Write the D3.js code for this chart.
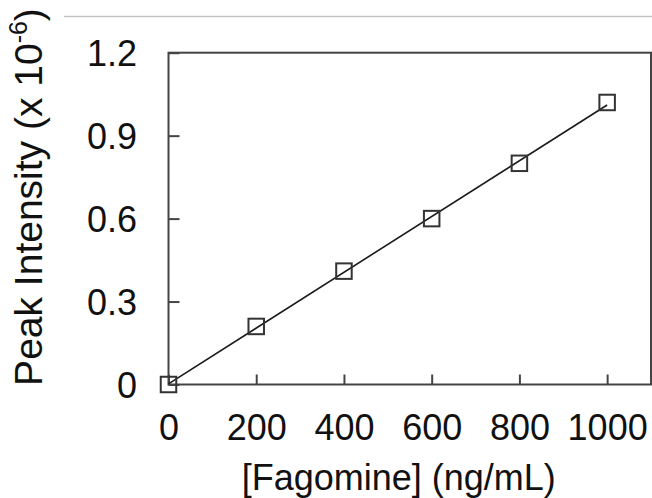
<!DOCTYPE html>
<html>
<head>
<meta charset="utf-8">
<script src="https://cdn.jsdelivr.net/npm/d3@7/dist/d3.min.js"></script>
<style>
  html, body { margin: 0; padding: 0; background: #fff; }
  svg { display: block; font-family: "Liberation Sans", Arial, Helvetica, sans-serif; }
</style>
</head>
<body>
<svg id="chart" width="652" height="498"></svg>
<script>
// Calibration data: fagomine concentration vs. peak intensity
const concentrations = [0, 200, 400, 600, 800, 1000];      // ng/mL
const intensities    = [0, 0.21, 0.41, 0.60, 0.80, 1.02];  // x 10^-6
const xTickValues = [0, 200, 400, 600, 800, 1000];
const yTickValues = [0, 0.3, 0.6, 0.9, 1.2];

const svg = d3.select("#chart");

const plot = { left: 168.5, right: 651, top: 52.7, bottom: 384.5 };

const x = d3.scaleLinear().domain([0, 1100]).range([plot.left, plot.right]);
const y = d3.scaleLinear().domain([0, 1.2]).range([plot.bottom, plot.top]);

// Thin rule across the top of the figure
svg.append("line")
  .attr("x1", 64).attr("x2", 652)
  .attr("y1", 16.5).attr("y2", 16.5)
  .attr("stroke", "#c4c4c4").attr("stroke-width", 1.5);

// Frame
svg.append("rect")
  .attr("x", plot.left).attr("y", plot.top)
  .attr("width", plot.right - plot.left)
  .attr("height", plot.bottom - plot.top)
  .attr("fill", "none").attr("stroke", "#444").attr("stroke-width", 2);

// Y axis: inward ticks
const yAxis = d3.axisLeft(y)
  .tickValues(yTickValues)
  .tickFormat(d => d === 0 ? "0" : d3.format(".1f")(d))
  .tickSizeInner(-11).tickSizeOuter(0).tickPadding(31.5);
const gy = svg.append("g").attr("transform", `translate(${plot.left},0)`).call(yAxis);
gy.select(".domain").remove();
gy.selectAll(".tick line").attr("stroke", "#444").attr("stroke-width", 2);
gy.selectAll(".tick text").attr("fill", "#111").attr("font-size", 36)
  .attr("font-family", "Liberation Sans, Arial, sans-serif").attr("dy", "0.35em");

// X axis: inward ticks
const xAxis = d3.axisBottom(x)
  .tickValues(xTickValues)
  .tickFormat(d3.format("d"))
  .tickSizeInner(-10).tickSizeOuter(0).tickPadding(30);
const gx = svg.append("g").attr("transform", `translate(0,${plot.bottom})`).call(xAxis);
gx.select(".domain").remove();
gx.selectAll(".tick line").attr("stroke", "#444").attr("stroke-width", 2);
gx.selectAll(".tick text").attr("fill", "#111").attr("font-size", 36)
  .attr("font-family", "Liberation Sans, Arial, sans-serif")
  .attr("y", 55.5).attr("dy", 0);

// Least-squares fit line
const mx = d3.mean(concentrations), my = d3.mean(intensities);
const sxy = d3.sum(concentrations, (c, i) => (c - mx) * (intensities[i] - my));
const sxx = d3.sum(concentrations, c => (c - mx) * (c - mx));
const slope = sxy / sxx, intercept = my - slope * mx;
const xMin = d3.min(concentrations), xMax = d3.max(concentrations);
svg.append("line")
  .attr("x1", x(xMin)).attr("y1", y(intercept + slope * xMin))
  .attr("x2", x(xMax)).attr("y2", y(intercept + slope * xMax))
  .attr("stroke", "#1a1a1a").attr("stroke-width", 1.6);

// Open square markers
const s = 15.5;
svg.append("g").selectAll("rect")
  .data(concentrations)
  .join("rect")
  .attr("x", d => x(d) - s / 2)
  .attr("y", (d, i) => y(intensities[i]) - s / 2)
  .attr("width", s).attr("height", s)
  .attr("fill", "none").attr("stroke", "#333").attr("stroke-width", 2);

// Axis titles
svg.append("text")
  .attr("x", (plot.left + plot.right) / 2 - 11).attr("y", 490)
  .attr("text-anchor", "middle").attr("font-size", 36).attr("fill", "#111")
  .text("[Fagomine] (ng/mL)");

const yt = svg.append("text")
  .attr("transform", "translate(42,197) rotate(-90)")
  .attr("text-anchor", "middle").attr("font-size", 39).attr("fill", "#111");
yt.append("tspan").text("Peak Intensity (x 10");
yt.append("tspan").attr("font-size", 25).attr("dy", -15).text("-6");
yt.append("tspan").attr("dy", 15).text(")");
</script>
</body>
</html>
